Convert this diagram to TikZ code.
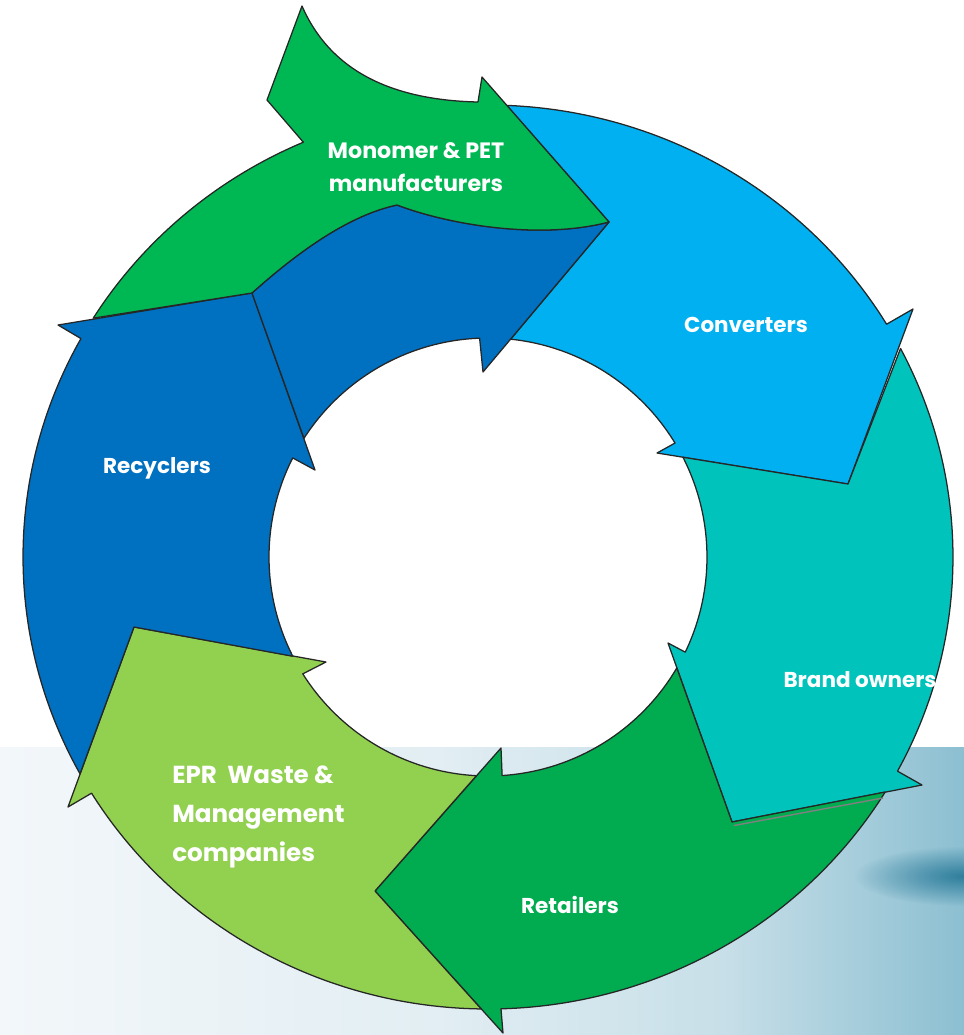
\documentclass[tikz,border=0pt]{standalone}
\usepackage{fontspec}
\setsansfont{Poppins}
\usetikzlibrary{calc,fadings}

\definecolor{monogreen}{HTML}{00B853}
\definecolor{convblue}{HTML}{00B0F0}
\definecolor{brandteal}{HTML}{00C4BC}
\definecolor{retailgreen}{HTML}{00AC4F}
\definecolor{eprlime}{HTML}{92D050}
\definecolor{recycblue}{HTML}{0070C0}
\definecolor{bgleft}{HTML}{F3F7FA}
\definecolor{bgmid}{HTML}{E2EEF3}
\definecolor{bgmidb}{HTML}{C7DFE8}
\definecolor{bgright}{HTML}{8CBFD1}
\definecolor{bgdark}{HTML}{2F7E9C}

\pgfdeclarehorizontalshading{bandshade}{100bp}{color(0bp)=(bgleft); color(25bp)=(bgleft); color(47.5bp)=(bgmid); color(62.5bp)=(bgmidb); color(75bp)=(bgright); color(100bp)=(bgright)}
\tikzfading[name=blobfade,inner color=transparent!0,outer color=transparent!100]

\begin{document}
\begin{tikzpicture}[x=0.025cm,y=-0.025cm,line join=round]
    \tikzstyle{ring}=[draw=black!85,line width=0.9pt]
    \tikzstyle{label}=[text=white,font=\sffamily\bfseries\fontsize{15.3}{19}\selectfont,inner sep=0pt]

    \useasboundingbox (0,0) rectangle (964,1035);

    % background band at the bottom
    \fill[shading=bandshade] (0,747) rectangle (964,1035);
    \fill[bgdark,path fading=blobfade] (964,876) ellipse [x radius=110,y radius=30];

    % centre of the ring
    \coordinate (C) at (488,557);

    % Converters
    \path[ring,fill=convblue] ($(C)+(-87.68:465 and 452)$)
        arc[start angle=-87.68,end angle=-31,x radius=465,y radius=452]
        -- (913,309) -- (848,484) -- (657,453) -- ($(C)+(-31.36:219)$)
        arc[start angle=-31.36,end angle=-84.06,radius=219] -- (609,222) -- cycle;

    % Brand owners
    \path[ring,fill=brandteal] ($(C)+(-27.47:465 and 452)$)
        arc[start angle=-27.47,end angle=28.28,x radius=465,y radius=452]
        -- (922,785) -- (732,822) -- (668,643) -- ($(C)+(25.75:219)$)
        arc[start angle=25.75,end angle=-27.1,radius=219] -- (848,484) -- cycle;

    % Retailers
    \path[ring,fill=retailgreen] ($(C)+(31.33:465 and 452)$)
        arc[start angle=31.33,end angle=88.4,x radius=465,y radius=452]
        -- (503,1033) -- (375,891) -- (501,748) -- ($(C)+(86.3:219)$)
        arc[start angle=86.3,end angle=30.45,radius=219] -- (732,822) -- cycle;
    \draw[gray,line width=1pt] (734,825.5) -- (883,798);

    % EPR Waste & Management companies
    \path[ring,fill=eprlime] ($(C)+(90.84:465 and 452)$)
        arc[start angle=90.84,end angle=148.5,x radius=465,y radius=452]
        -- (68,807) -- (134,627) -- (326,662) -- ($(C)+(147.75:219)$)
        arc[start angle=147.75,end angle=93.03,radius=219] -- (375,891) -- cycle;

    % Recyclers
    \path[ring,fill=recycblue] ($(C)+(151.33:465 and 452)$)
        arc[start angle=151.33,end angle=208.9,x radius=465,y radius=452]
        -- (58,325) -- (252,293) -- (315,470) -- ($(C)+(206.9:219)$)
        arc[start angle=206.9,end angle=153.04,radius=219] -- (134,627) -- cycle;

    % Recyclers, upper part under the Monomer arrow
    \path[ring,fill=recycblue] (252,293) .. controls (300,250) and (350,215) .. (397,205)
        .. controls (450,225) and (540,240) .. (609,222) -- (483,372) -- ($(C)+(267.8:219)$)
        arc[start angle=267.8,end angle=212.83,radius=219] -- cycle;

    % Monomer & PET manufacturers
    \path[ring,fill=monogreen] (302,6) .. controls (330,70) and (390,100) .. (478,102)
        -- (482,77) -- (609,222) .. controls (540,240) and (450,225) .. (397,205)
        .. controls (350,215) and (300,250) .. (252,293) -- ($(C)+(211.9:465 and 452)$)
        arc[start angle=211.9,end angle=246.6,x radius=465,y radius=452] -- (267,100) -- cycle;

    % Labels
    \node[label,align=center,font=\sffamily\bfseries\fontsize{15.8}{23.5}\selectfont] (mono) at (416,167) {Monomer \& PET\\manufacturers};
    \node[label] (conv) at (746,325) {Converters};
    \node[label] (brand) at (860,680) {Brand owners};
    \node[label] (retail) at (570,905) {Retailers};
    \node[label,align=left,anchor=west,font=\sffamily\bfseries\fontsize{17.5}{27.6}\selectfont] (epr) at (172,817) {EPR\ \ Waste \&\\Management\\companies};
    \node[label] (recyc) at (157,468) {Recyclers};
\end{tikzpicture}
\end{document}
